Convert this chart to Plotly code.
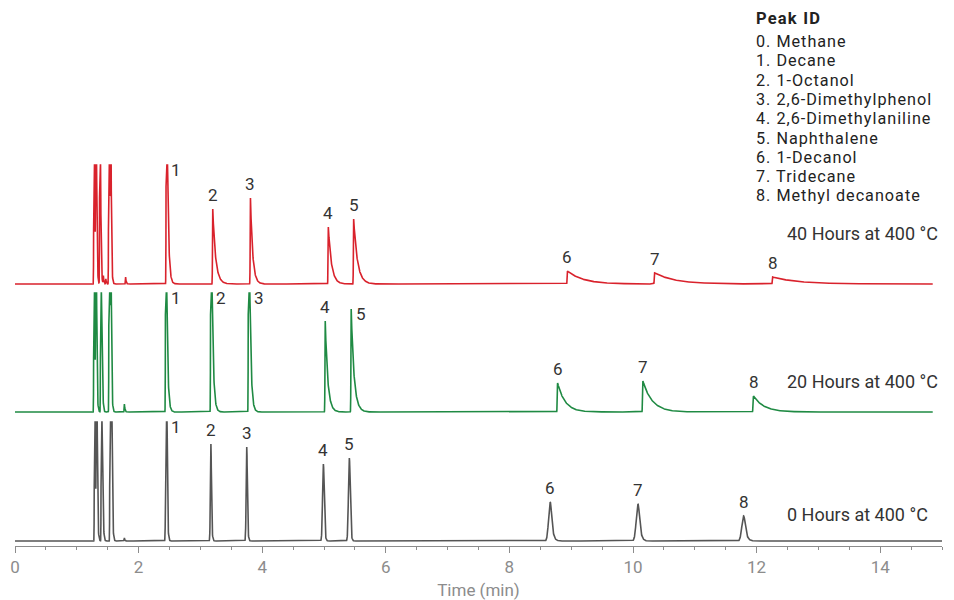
import numpy as np
import plotly.graph_objects as go

# ---------------- data ----------------
trace_names = ["0 Hours at 400 °C", "20 Hours at 400 °C", "40 Hours at 400 °C"]
trace_colors = ["#555555", "#1f8a43", "#d9222c"]
baselines = [0, 129, 257]          # vertical offset of each chromatogram
end_times = [15.0, 14.85, 14.85]   # last retention time recorded (min)
clip_height = 119                  # detector display limit per trace

peak_labels = ["1", "2", "3", "4", "5", "6", "7", "8"]

# 0 hours
h0_solv_t = [1.29, 1.32, 1.40, 1.43, 1.54, 1.56, 1.77]
h0_solv_h = [400, 400, 400, 13, 400, 400, 3]
h0_t = [2.45, 3.17, 3.75, 4.99, 5.41, 8.66, 10.08, 11.79]
h0_h = [300, 97, 94, 77, 83, 39, 37, 25]
h0_sig = [0.008, 0.008, 0.009, 0.013, 0.014, 0.025, 0.027, 0.028]
h0_tau = [0.008, 0.008, 0.008, 0.010, 0.010, 0.025, 0.025, 0.028]

# 20 hours
h20_solv_t = [1.28, 1.31, 1.39, 1.42, 1.525, 1.548, 1.77]
h20_solv_h = [400, 400, 400, 17, 400, 400, 8]
h20_t = [2.44, 3.17, 3.78, 5.02, 5.44, 8.78, 10.16, 11.95]
h20_h = [300, 300, 300, 91, 103, 29, 31, 16]
h20_sig = [0.004, 0.004, 0.004, 0.004, 0.004, 0.005, 0.005, 0.006]
h20_tau = [0.018, 0.022, 0.022, 0.040, 0.045, 0.12, 0.15, 0.17]

# 40 hours
h40_solv_t = [1.28, 1.31, 1.375, 1.43, 1.47, 1.52, 1.545, 1.79]
h40_solv_h = [400, 400, 400, 8, 5, 400, 400, 7]
h40_t = [2.45, 3.20, 3.81, 5.07, 5.48, 8.94, 10.35, 12.26]
h40_h = [300, 75, 86, 57, 65, 13, 11, 7]
h40_sig = [0.004, 0.004, 0.004, 0.004, 0.004, 0.005, 0.005, 0.005]
h40_tau = [0.02, 0.045, 0.035, 0.05, 0.06, 0.25, 0.33, 0.40]

legend_title = "Peak ID"
legend_items = ["0. Methane", "1. Decane", "2. 1-Octanol", "3. 2,6-Dimethylphenol",
                "4. 2,6-Dimethylaniline", "5. Naphthalene", "6. 1-Decanol",
                "7. Tridecane", "8. Methyl decanoate"]

x_ticks = [0, 2, 4, 6, 8, 10, 12, 14]
x_title = "Time (min)"

# ---------------- build ----------------
FONT = "Roboto"
TXT = "#333333"
AX = "#8c8c8c"


def tailed_peak(t, t0, h, s, tau):
    """Gaussian front with an exponential tail (continuous in value and slope)."""
    d = t - t0
    k = s * s / tau
    g = np.exp(-0.5 * (d / s) ** 2)
    dd = np.maximum(d, k)
    e = np.exp(0.5 * (k / s) ** 2 - k * dd / (s * s))
    return h * np.where(d <= k, g, e)


def spaced(txt, px):
    return '<span style="letter-spacing:%spx">%s</span>' % (px, txt)


sets = [
    (h0_solv_t, h0_solv_h, h0_t, h0_h, h0_sig, h0_tau),
    (h20_solv_t, h20_solv_h, h20_t, h20_h, h20_sig, h20_tau),
    (h40_solv_t, h40_solv_h, h40_t, h40_h, h40_sig, h40_tau),
]

fig = go.Figure()
annotations = []

for i, (st, sh, pt, ph, ps, ptau) in enumerate(sets):
    t = np.union1d(np.arange(0, end_times[i] + 1e-9, 0.002), np.array(st + pt))
    y = np.zeros_like(t)
    for a, b in zip(st, sh):
        y += tailed_peak(t, a, b, 0.004, 0.008)
    for a, b, s, tau in zip(pt, ph, ps, ptau):
        y += tailed_peak(t, a, b, s, tau)
    y = np.minimum(y, clip_height) + baselines[i]
    fig.add_trace(go.Scatter(x=t, y=y, mode="lines", name=trace_names[i],
                             line=dict(color=trace_colors[i], width=1.6),
                             hoverinfo="skip", showlegend=False))
    for lab, a, b in zip(peak_labels, pt, ph):
        apex = min(b, clip_height)
        if apex > 100:
            annotations.append(dict(x=a, y=baselines[i] + apex - 5, text=lab,
                                    xanchor="left", yanchor="middle", xshift=3,
                                    showarrow=False, font=dict(family=FONT, size=17, color=TXT)))
        else:
            annotations.append(dict(x=a, y=baselines[i] + apex, text=lab,
                                    xanchor="center", yanchor="bottom", yshift=2,
                                    showarrow=False, font=dict(family=FONT, size=17, color=TXT)))

trace_label_y = [27, 160, 308]
for i, name in enumerate(trace_names):
    annotations.append(dict(x=12.46, y=trace_label_y[i], text=name, xanchor="left",
                            yanchor="middle", showarrow=False,
                            font=dict(family=FONT, size=18, color=TXT)))

annotations.append(dict(x=11.95, y=523, text="<b>" + spaced(legend_title, 1.2) + "</b>",
                        xanchor="left", yanchor="middle", showarrow=False,
                        font=dict(family=FONT, size=16.5, color="#222222")))
for j, item in enumerate(legend_items):
    annotations.append(dict(x=11.95, y=499.5 - 19.3 * j, text=spaced(item, 1.0),
                            xanchor="left", yanchor="middle", showarrow=False,
                            font=dict(family=FONT, size=16.2, color="#222222")))

fig.update_layout(
    width=954, height=600,
    margin=dict(l=15, r=12, t=0, b=54),
    paper_bgcolor="white", plot_bgcolor="white",
    annotations=annotations,
    xaxis=dict(range=[0, 15], tickvals=x_ticks, ticks="outside", ticklen=6,
               tickcolor=AX, showline=True, linecolor=AX, linewidth=1,
               showgrid=False, zeroline=False,
               tickfont=dict(family=FONT, size=17, color=AX),
               minor=dict(dtick=0.5, ticks="outside", ticklen=3, tickcolor=AX),
               title=dict(text=x_title, standoff=8,
                          font=dict(family=FONT, size=17, color=AX))),
    yaxis=dict(range=[-5, 541], visible=False, fixedrange=True),
)

fig.write_html("out.html")
